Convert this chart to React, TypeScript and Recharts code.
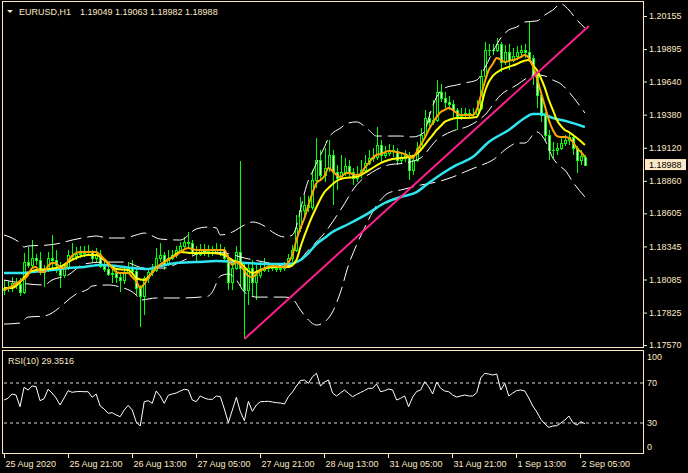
import React from 'react';
import { ComposedChart, Bar, Line, XAxis, YAxis, ReferenceLine } from 'recharts';

const W = 688;
const FG = '#FCE8C4';
const FONT = "Tahoma, 'Liberation Sans', Arial, sans-serif";
const SLOTS = 160;

const symbolName = 'EURUSD,H1';
const lastBar = { open: 1.19049, high: 1.19063, low: 1.18982, close: 1.18988 };
const rsiName = 'RSI(10)';
const rsiLast = 29.3516;

const priceTicks = [1.1757, 1.17825, 1.18085, 1.18345, 1.18605, 1.1886, 1.1912, 1.1938, 1.1964, 1.19895, 1.20155];
const priceDomain = [1.17547, 1.20265];
const rsiTicks = [0, 30, 70, 100];
const rsiLevels = [70, 30];
const timeTickIdx = [0, 16, 32, 48, 64, 80, 96, 112, 128, 144];
const timeTickLabels = ['25 Aug 2020', '25 Aug 21:00', '26 Aug 13:00', '27 Aug 05:00', '27 Aug 21:00', '28 Aug 13:00', '31 Aug 05:00', '31 Aug 21:00', '1 Sep 13:00', '2 Sep 05:00'];

const opens = [
  1.18002, 1.18018, 1.18026, 1.18057, 1.1805, 1.17987, 1.18222, 1.18199, 1.18254, 1.18238,
  1.18144, 1.1816, 1.18254, 1.18238, 1.18199, 1.1812, 1.18175, 1.18277, 1.1827, 1.18285,
  1.18293, 1.18301, 1.18301, 1.18254, 1.18285, 1.18191, 1.18167, 1.18128, 1.18136, 1.18105,
  1.18081, 1.18144, 1.18183, 1.18152, 1.18018, 1.17955, 1.18097, 1.18144, 1.1816, 1.18254,
  1.18277, 1.18207, 1.18254, 1.18277, 1.18317, 1.18348, 1.1838, 1.18372, 1.18301, 1.18285,
  1.18325, 1.18309, 1.18301, 1.18301, 1.18325, 1.18317, 1.18254, 1.18065, 1.18175, 1.18301,
  1.18175, 1.18002, 1.18175, 1.18065, 1.1812, 1.1816, 1.18175, 1.18175, 1.18175, 1.18167,
  1.18175, 1.18191, 1.18254, 1.18317, 1.1849, 1.18631, 1.1867, 1.18655, 1.18867, 1.19024,
  1.18906, 1.18961, 1.19063, 1.1893, 1.18882, 1.1893, 1.18977, 1.1893, 1.18882, 1.18914,
  1.18945, 1.19, 1.1904, 1.19047, 1.19142, 1.19063, 1.19079, 1.19102, 1.19095, 1.19024,
  1.1904, 1.19063, 1.18945, 1.19024, 1.19118, 1.1922, 1.19354, 1.19323, 1.19338, 1.19558,
  1.19511, 1.1948, 1.19464, 1.19417, 1.1937, 1.19385, 1.19393, 1.19385, 1.19385, 1.19432,
  1.19684, 1.19888, 1.19888, 1.19888, 1.19935, 1.19794, 1.19872, 1.1981, 1.19841, 1.19872,
  1.19888, 1.19872, 1.19825, 1.19692, 1.19535, 1.19377, 1.1922, 1.19102, 1.19102, 1.19118,
  1.19157, 1.19181, 1.19205, 1.19118, 1.19024, 1.19049,
];
const highs = [
  1.18081, 1.18073, 1.18105, 1.18097, 1.18097, 1.18293, 1.1834, 1.18395, 1.18285, 1.18301,
  1.18199, 1.18301, 1.18435, 1.18317, 1.18222, 1.18199, 1.18317, 1.18372, 1.1834, 1.18348,
  1.18348, 1.18356, 1.18317, 1.18332, 1.18317, 1.18238, 1.18215, 1.18175, 1.1816, 1.18144,
  1.18175, 1.18222, 1.18238, 1.18175, 1.18042, 1.18112, 1.18175, 1.18207, 1.18332, 1.18372,
  1.18301, 1.18317, 1.18317, 1.18348, 1.1838, 1.18419, 1.18458, 1.18395, 1.18348, 1.18364,
  1.18364, 1.18356, 1.18348, 1.18372, 1.18364, 1.1834, 1.18277, 1.18222, 1.18348, 1.19016,
  1.18222, 1.18222, 1.18238, 1.18199, 1.18222, 1.18254, 1.18222, 1.18215, 1.18207, 1.18215,
  1.18222, 1.18285, 1.18356, 1.18592, 1.18733, 1.18749, 1.18741, 1.18945, 1.19197, 1.19102,
  1.19118, 1.19181, 1.19102, 1.18985, 1.19063, 1.1904, 1.19024, 1.18961, 1.18977, 1.19024,
  1.19063, 1.19102, 1.19118, 1.19283, 1.19181, 1.19134, 1.1915, 1.19142, 1.19118, 1.19087,
  1.19102, 1.19087, 1.19063, 1.19165, 1.19275, 1.19417, 1.19401, 1.19495, 1.19652, 1.19621,
  1.19558, 1.19527, 1.19495, 1.19432, 1.19432, 1.19432, 1.19425, 1.19432, 1.19495, 1.19731,
  1.19951, 1.19935, 1.19935, 1.19982, 1.19951, 1.19927, 1.19935, 1.19904, 1.1992, 1.19927,
  1.19935, 1.20108, 1.19849, 1.19715, 1.19558, 1.19401, 1.1926, 1.19165, 1.19157, 1.19197,
  1.1922, 1.19244, 1.19228, 1.19134, 1.19102, 1.19063,
];
const lows = [
  1.17963, 1.17987, 1.17987, 1.1801, 1.17955, 1.17971, 1.18175, 1.18183, 1.18199, 1.1812,
  1.18026, 1.18144, 1.18175, 1.18136, 1.18018, 1.18097, 1.1816, 1.18238, 1.18238, 1.18254,
  1.18262, 1.1827, 1.18222, 1.18222, 1.18175, 1.18144, 1.18112, 1.18057, 1.18057, 1.17987,
  1.1805, 1.18144, 1.1812, 1.17963, 1.17712, 1.17806, 1.18057, 1.18112, 1.18144, 1.18222,
  1.1816, 1.18191, 1.18238, 1.18254, 1.18301, 1.18332, 1.1834, 1.18277, 1.18222, 1.1827,
  1.1827, 1.18262, 1.1827, 1.18285, 1.1827, 1.18222, 1.18002, 1.18002, 1.1816, 1.18026,
  1.17617, 1.17885, 1.17947, 1.17924, 1.18097, 1.18144, 1.18144, 1.18152, 1.18144, 1.18144,
  1.18152, 1.18175, 1.18222, 1.18301, 1.18458, 1.18568, 1.18615, 1.18631, 1.18804, 1.18867,
  1.18851, 1.1893, 1.1867, 1.18788, 1.18867, 1.18898, 1.18882, 1.18827, 1.18851, 1.18882,
  1.1893, 1.18985, 1.19008, 1.19024, 1.19008, 1.1904, 1.19055, 1.19047, 1.18985, 1.19,
  1.19008, 1.18867, 1.18906, 1.19008, 1.19102, 1.19197, 1.19275, 1.19299, 1.19323, 1.1948,
  1.19432, 1.19417, 1.19362, 1.1926, 1.19338, 1.19354, 1.19354, 1.19354, 1.1937, 1.19417,
  1.19668, 1.19841, 1.19849, 1.19872, 1.19715, 1.1977, 1.19731, 1.19794, 1.1981, 1.19825,
  1.19825, 1.19794, 1.19613, 1.19432, 1.19323, 1.19165, 1.19024, 1.1904, 1.19063, 1.19102,
  1.19134, 1.19142, 1.19063, 1.18922, 1.18985, 1.18982,
];
const closes = [
  1.18018, 1.18026, 1.18057, 1.1805, 1.17987, 1.18222, 1.18199, 1.18254, 1.18238, 1.18144,
  1.1816, 1.18254, 1.18238, 1.18199, 1.1812, 1.18175, 1.18277, 1.1827, 1.18285, 1.18293,
  1.18301, 1.18301, 1.18254, 1.18285, 1.18191, 1.18167, 1.18128, 1.18136, 1.18105, 1.18081,
  1.18144, 1.18183, 1.18152, 1.18018, 1.17955, 1.18097, 1.18144, 1.1816, 1.18254, 1.18277,
  1.18207, 1.18254, 1.18277, 1.18317, 1.18348, 1.1838, 1.18372, 1.18301, 1.18285, 1.18325,
  1.18309, 1.18301, 1.18301, 1.18325, 1.18317, 1.18254, 1.18065, 1.18175, 1.18301, 1.18175,
  1.18002, 1.18175, 1.18065, 1.1812, 1.1816, 1.18175, 1.18175, 1.18175, 1.18167, 1.18175,
  1.18191, 1.18254, 1.18317, 1.1849, 1.18631, 1.1867, 1.18655, 1.18867, 1.19024, 1.18906,
  1.18961, 1.19063, 1.1893, 1.18882, 1.1893, 1.18977, 1.1893, 1.18882, 1.18914, 1.18945,
  1.19, 1.1904, 1.19047, 1.19142, 1.19063, 1.19079, 1.19102, 1.19095, 1.19024, 1.1904,
  1.19063, 1.18945, 1.19024, 1.19118, 1.1922, 1.19354, 1.19323, 1.19338, 1.19558, 1.19511,
  1.1948, 1.19464, 1.19417, 1.1937, 1.19385, 1.19393, 1.19385, 1.19385, 1.19432, 1.19684,
  1.19888, 1.19888, 1.19888, 1.19935, 1.19794, 1.19872, 1.1981, 1.19841, 1.19872, 1.19888,
  1.19872, 1.19825, 1.19692, 1.19535, 1.19377, 1.1922, 1.19102, 1.19102, 1.19118, 1.19157,
  1.19181, 1.19205, 1.19118, 1.19024, 1.19055, 1.18988,
];

type Pt = [number, number];
const maFast: Pt[] = [
  [0, 1.18002], [2, 1.18034], [4, 1.18073], [5, 1.18089], [6, 1.1812], [7, 1.18175], [8, 1.18183], [9, 1.18144],
  [10, 1.18144], [11, 1.18191], [12, 1.18215], [13, 1.18215], [14, 1.18175], [15, 1.18175], [16, 1.1823], [17, 1.1827],
  [18, 1.18293], [19, 1.18301], [20, 1.18301], [23, 1.18301], [24, 1.18277], [25, 1.18246], [26, 1.18215], [27, 1.18175],
  [28, 1.18144], [29, 1.18136], [31, 1.18136], [32, 1.18105], [33, 1.18073], [34, 1.18018], [35, 1.1805], [36, 1.18097],
  [38, 1.18175], [40, 1.18222], [43, 1.18277], [46, 1.18332], [47, 1.18325], [48, 1.18317], [50, 1.18317], [55, 1.18317],
  [56, 1.18254], [57, 1.18199], [58, 1.18222], [59, 1.18199], [60, 1.18152], [61, 1.18112], [62, 1.18105], [63, 1.18128],
  [65, 1.18175], [67, 1.18191], [70, 1.18183], [71, 1.18222], [72, 1.18277], [73, 1.18395], [74, 1.1849], [75, 1.18568],
  [76, 1.1867], [77, 1.18765], [78, 1.18843], [79, 1.18867], [80, 1.18898], [81, 1.18961], [82, 1.18937], [83, 1.18906],
  [84, 1.1889], [85, 1.18914], [86, 1.18922], [87, 1.18914], [88, 1.18906], [89, 1.18914], [90, 1.18961], [91, 1.19],
  [92, 1.1904], [93, 1.19063], [94, 1.19071], [96, 1.19095], [98, 1.19087], [100, 1.19071], [101, 1.19055], [102, 1.1904],
  [103, 1.19087], [104, 1.19142], [105, 1.19197], [106, 1.1926], [107, 1.19315], [108, 1.19362], [109, 1.19401], [110, 1.19417],
  [111, 1.19432], [112, 1.19417], [113, 1.19393], [114, 1.19377], [116, 1.19377], [117, 1.19377], [118, 1.19417], [119, 1.19527],
  [120, 1.19637], [121, 1.19731], [122, 1.19778], [123, 1.19825], [124, 1.1981], [125, 1.19794], [126, 1.19802], [127, 1.1981],
  [128, 1.19817], [129, 1.19833], [130, 1.19849], [131, 1.19825], [132, 1.19762], [133, 1.19668], [134, 1.19558], [135, 1.19448],
  [136, 1.19338], [137, 1.1926], [138, 1.19212], [139, 1.19205], [140, 1.19205], [141, 1.19197], [142, 1.19165], [143, 1.19118],
  [144, 1.19087], [145, 1.19047],
];
const maMid: Pt[] = [
  [0, 1.18018], [2, 1.18018], [4, 1.18065], [6, 1.18136], [8, 1.1816], [11, 1.18167], [14, 1.18183], [16, 1.18222],
  [18, 1.18254], [21, 1.18277], [23, 1.18277], [25, 1.18238], [27, 1.18183], [28, 1.18167], [31, 1.1816], [32, 1.18136],
  [33, 1.18097], [35, 1.18081], [36, 1.18105], [38, 1.18175], [42, 1.18262], [44, 1.18301], [47, 1.18293], [52, 1.18293],
  [55, 1.18277], [57, 1.18238], [59, 1.18215], [61, 1.18152], [62, 1.18136], [64, 1.1816], [67, 1.18183], [71, 1.18183],
  [73, 1.18238], [74, 1.1834], [76, 1.18513], [78, 1.18655], [80, 1.18772], [81, 1.18804], [83, 1.18859], [85, 1.18882],
  [88, 1.1889], [90, 1.18922], [92, 1.18961], [94, 1.19], [96, 1.19024], [99, 1.1904], [101, 1.19047], [103, 1.19071],
  [104, 1.19102], [106, 1.19181], [107, 1.1922], [108, 1.1926], [109, 1.19291], [110, 1.19323], [111, 1.19338], [113, 1.19354],
  [115, 1.19354], [118, 1.19362], [119, 1.19432], [120, 1.19558], [121, 1.19637], [122, 1.19684], [124, 1.19731], [126, 1.19755],
  [128, 1.19778], [129, 1.19794], [131, 1.1981], [132, 1.1977], [133, 1.19731], [134, 1.19668], [135, 1.1959], [136, 1.19495],
  [137, 1.19417], [138, 1.19338], [139, 1.19291], [140, 1.1926], [141, 1.19244], [142, 1.1922], [143, 1.19197], [145, 1.19142],
];
const maSlow: Pt[] = [
  [0, 1.18136], [4, 1.18136], [7, 1.18144], [12, 1.1816], [16, 1.18175], [20, 1.18183], [24, 1.18199], [28, 1.18191],
  [32, 1.18175], [36, 1.18167], [38, 1.18183], [43, 1.18215], [48, 1.18222], [53, 1.1823], [60, 1.18215], [67, 1.18207],
  [71, 1.18207], [74, 1.18238], [76, 1.18293], [78, 1.18364], [80, 1.18411], [82, 1.18458], [86, 1.18521], [91, 1.18607],
  [95, 1.18686], [99, 1.18733], [103, 1.18772], [106, 1.18843], [110, 1.1893], [113, 1.18985], [117, 1.19047], [121, 1.19165],
  [126, 1.1926], [130, 1.19354], [132, 1.19385], [134, 1.19385], [137, 1.19354], [141, 1.19323], [145, 1.19283],
];
const bandUpper: Pt[] = [
  [0, 1.18435], [2, 1.18411], [4, 1.18372], [5, 1.1834], [6, 1.18348], [11, 1.18356], [13, 1.18364], [17, 1.18395],
  [21, 1.18419], [23, 1.18427], [26, 1.18411], [30, 1.18411], [33, 1.18435], [35, 1.1845], [39, 1.18403], [44, 1.18395],
  [48, 1.18482], [51, 1.18497], [53, 1.1849], [54, 1.18435], [57, 1.18458], [60, 1.18513], [62, 1.18537], [65, 1.18505],
  [67, 1.18458], [70, 1.18419], [72, 1.18435], [73, 1.18505], [74, 1.18631], [75, 1.18765], [76, 1.18867], [77, 1.1893],
  [78, 1.19], [80, 1.19126], [81, 1.19197], [84, 1.19275], [86, 1.19315], [88, 1.19323], [91, 1.1926], [93, 1.19212],
  [96, 1.19212], [99, 1.19212], [102, 1.19205], [105, 1.19244], [106, 1.19354], [108, 1.19519], [110, 1.1959], [113, 1.19613],
  [115, 1.19629], [118, 1.19652], [120, 1.19747], [122, 1.19872], [124, 1.19982], [126, 1.20045], [128, 1.20069], [130, 1.20108],
  [133, 1.20116], [135, 1.20163], [137, 1.20202], [139, 1.2025], [141, 1.20202], [143, 1.20124], [145, 1.20061],
];
const bandMiddle: Pt[] = [
  [0, 1.18081], [6, 1.1805], [10, 1.18042], [12, 1.18081], [16, 1.1812], [20, 1.18207], [25, 1.18222], [30, 1.18222],
  [35, 1.18175], [40, 1.18175], [45, 1.18238], [50, 1.18301], [55, 1.18293], [60, 1.18254], [65, 1.18222], [70, 1.18191],
  [73, 1.18215], [76, 1.18317], [80, 1.1845], [84, 1.18631], [88, 1.18827], [92, 1.1893], [96, 1.18985], [100, 1.19],
  [104, 1.1904], [108, 1.19181], [112, 1.19252], [116, 1.19291], [120, 1.19377], [124, 1.19535], [128, 1.19613], [131, 1.19676],
  [133, 1.19692], [135, 1.19684], [137, 1.19652], [139, 1.19621], [141, 1.19558], [143, 1.1948], [145, 1.19393],
];
const bandLower: Pt[] = [
  [0, 1.17735], [4, 1.17743], [6, 1.1779], [10, 1.17798], [12, 1.17822], [14, 1.17869], [16, 1.17924], [18, 1.17971],
  [21, 1.1801], [22, 1.18034], [26, 1.18042], [29, 1.18026], [33, 1.17963], [34, 1.17924], [38, 1.1794], [44, 1.1794],
  [49, 1.17947], [51, 1.17955], [52, 1.17987], [54, 1.18112], [56, 1.18128], [58, 1.18081], [60, 1.17987], [63, 1.17947],
  [70, 1.17947], [72, 1.17932], [74, 1.17845], [76, 1.17767], [78, 1.17727], [80, 1.17751], [82, 1.1783], [84, 1.17987],
  [86, 1.18199], [88, 1.18356], [90, 1.1849], [92, 1.18615], [94, 1.1871], [96, 1.18765], [99, 1.18788], [101, 1.18804],
  [104, 1.18827], [108, 1.18851], [112, 1.1889], [115, 1.1893], [118, 1.18969], [122, 1.19024], [126, 1.19126], [128, 1.19157],
  [130, 1.19157], [133, 1.19244], [135, 1.19181], [137, 1.1904], [139, 1.18969], [140, 1.18945], [142, 1.18851], [145, 1.18733],
];
const trendLine: Pt[] = [[60, 1.17617], [146, 1.20077]];

const rsiValues = [
  53, 54.7, 59, 58, 46.3, 65.7, 63, 67, 66.3, 52.3,
  54.3, 63.7, 60, 55, 48, 55, 62.3, 60.7, 61.3, 61.5,
  61.3, 61.3, 55.7, 59, 47, 44, 39.7, 40.3, 38, 36.3,
  43, 47.7, 43, 31, 27, 51.3, 52.3, 49.7, 62, 57,
  49.7, 57.7, 59, 60, 62, 63.7, 63, 53, 51.3, 57,
  55, 53.7, 53.7, 57, 56.3, 44, 30.3, 43, 55.7, 41.3,
  32.3, 51.7, 41.7, 48, 51.3, 51.5, 51.7, 51, 50.3, 50,
  49, 56.3, 61, 67, 72.5, 73, 69.7, 76.3, 79.7, 67,
  71, 73, 60, 57, 60, 63, 59.5, 56.3, 58.5, 60.5,
  62.5, 64.7, 64.7, 69, 61.3, 62.3, 64, 63, 53, 54.7,
  57, 46.3, 56, 61.5, 63, 71.3, 66.3, 59, 71, 64.7,
  62, 61.3, 58, 56, 57, 58, 57, 57, 60.3, 75,
  79.7, 79, 78, 79, 63, 69.7, 57, 60, 62.5, 63,
  62, 55, 47, 41, 33.7, 29, 25.7, 27, 27.3, 30,
  33, 37, 30.3, 28, 31.3, 29.3516,
];

// ---- build tables ----
const rows: any[] = Array.from({ length: SLOTS }, (_, i) => ({ i }));
closes.forEach((c, i) => {
  rows[i].o = opens[i];
  rows[i].h = highs[i];
  rows[i].l = lows[i];
  rows[i].c = c;
  rows[i].hl = [lows[i], highs[i]];
});
const put = (key: string, pts: Pt[]) => pts.forEach(([i, v]) => { rows[i][key] = v; });
put('fast', maFast);
put('mid', maMid);
put('slow', maSlow);
put('bbU', bandUpper);
put('bbM', bandMiddle);
put('bbL', bandLower);
put('trend', trendLine);

const rsiRows = rsiValues.map((v, i) => ({ i, rsi: v }));

// ---- shapes ----
function Candle(props: any) {
  const { x, y, width, height, payload } = props;
  if (!payload || payload.h == null || y == null || height == null) return <g />;
  const { o, h, l, c } = payload;
  const span = h - l;
  const py = (v: number) => (span > 0 ? y + ((h - v) / span) * height : y);
  const cx = Math.floor(x + width / 2);
  const top = Math.round(y);
  const bot = Math.round(y + height);
  const bTop = Math.round(py(Math.max(o, c)));
  const bBot = Math.round(py(Math.min(o, c)));
  const bull = c >= o;
  return (
    <g shapeRendering="crispEdges">
      <rect x={cx} y={top} width={1} height={Math.max(1, bot - top)} fill="#00ff00" />
      {bBot - bTop >= 2 ? (
        <>
          <rect x={cx - 1} y={bTop} width={3} height={bBot - bTop + 1} fill="#00ff00" />
          <rect x={cx} y={bTop + 1} width={1} height={bBot - bTop - 1} fill={bull ? '#000000' : '#ffffff'} />
        </>
      ) : (
        <rect x={cx - 1} y={bTop} width={3} height={Math.max(1, bBot - bTop + 1)} fill="#00ff00" />
      )}
    </g>
  );
}

function PriceTick(props: any) {
  const { x, y, payload } = props;
  const v = payload.value;
  if (v === lastBar.close) {
    return (
      <g>
        <rect x={x + 2} y={y - 5.5} width={41} height={11} fill={FG} />
        <text x={x + 6} y={y} dy="0.35em" fill="#000" fontSize={9} fontFamily={FONT}>{v.toFixed(5)}</text>
      </g>
    );
  }
  return (
    <g>
      <line x1={x + 1} x2={x + 4} y1={y + 0.5} y2={y + 0.5} stroke={FG} />
      <text x={x + 6} y={y} dy="0.35em" fill={FG} fontSize={9} fontFamily={FONT}>{v.toFixed(5)}</text>
    </g>
  );
}

function RsiTick(props: any) {
  const { x, y, payload } = props;
  const v = payload.value;
  const shift = v === 100 ? 4 : v === 0 ? -6 : 0;
  return (
    <text x={x + 4} y={y + shift} dy="0.35em" fill={FG} fontSize={9} fontFamily={FONT}>{v}</text>
  );
}

function TimeTick(props: any) {
  const { x, y, payload } = props;
  const k = timeTickIdx.indexOf(payload.value);
  const px = Math.floor(x) + 0.5;
  return (
    <g>
      <line x1={px} x2={px} y1={y + 1} y2={y + 5} stroke={FG} />
      <text x={px + 1} y={y + 14} fill={FG} fontSize={9} fontFamily={FONT} textAnchor="start">{timeTickLabels[k]}</text>
    </g>
  );
}

export default function App() {
  return (
    <div style={{ position: 'absolute', left: 0, top: 0, width: W, height: 473, background: '#000', overflow: 'hidden' }}>
      <div style={{ position: 'absolute', left: 0, top: 0 }}>
        <ComposedChart width={W} height={350} data={rows} margin={{ top: 2, right: 0, bottom: 2, left: 2 }}>
          <XAxis dataKey="i" type="category" hide />
          <YAxis
            orientation="right"
            width={45}
            type="number"
            domain={priceDomain}
            allowDataOverflow
            ticks={[...priceTicks, lastBar.close]}
            interval={0}
            tick={(p: any) => <PriceTick {...p} />}
            tickLine={false}
            axisLine={false}
            tickSize={0}
            tickMargin={0}
          />
          <Bar dataKey="hl" barSize={3} shape={(p: any) => <Candle {...p} />} isAnimationActive={false} />
          <Line dataKey="bbU" type="monotone" stroke="#ffffff" strokeWidth={1} strokeDasharray="16 6" dot={false} connectNulls isAnimationActive={false} />
          <Line dataKey="bbM" type="monotone" stroke="#ffffff" strokeWidth={1} strokeDasharray="16 6" dot={false} connectNulls isAnimationActive={false} />
          <Line dataKey="bbL" type="monotone" stroke="#ffffff" strokeWidth={1} strokeDasharray="16 6" dot={false} connectNulls isAnimationActive={false} />
          <Line dataKey="slow" type="monotone" stroke="#2EE6F0" strokeWidth={2.5} dot={false} connectNulls isAnimationActive={false} />
          <Line dataKey="mid" type="monotone" stroke="#FFFF00" strokeWidth={2} dot={false} connectNulls isAnimationActive={false} />
          <Line dataKey="fast" type="monotone" stroke="#FFA500" strokeWidth={2} dot={false} connectNulls isAnimationActive={false} />
          <Line dataKey="trend" type="linear" stroke="#FF1E8C" strokeWidth={2} dot={false} connectNulls isAnimationActive={false} />
        </ComposedChart>
      </div>
      <div style={{ position: 'absolute', left: 0, top: 350 }}>
        <ComposedChart width={W} height={123} data={rsiRows} margin={{ top: 3, right: 0, bottom: 0, left: 2 }}>
          <XAxis
            dataKey="i"
            type="number"
            domain={[-0.5, SLOTS - 0.5]}
            allowDataOverflow
            ticks={timeTickIdx}
            interval={0}
            height={20}
            tick={(p: any) => <TimeTick {...p} />}
            tickLine={false}
            axisLine={false}
            tickSize={0}
            tickMargin={0}
          />
          <YAxis
            orientation="right"
            width={45}
            type="number"
            domain={[0, 100]}
            ticks={rsiTicks}
            interval={0}
            tick={(p: any) => <RsiTick {...p} />}
            tickLine={false}
            axisLine={false}
            tickSize={0}
            tickMargin={0}
          />
          {rsiLevels.map((lv) => (
            <ReferenceLine key={lv} y={lv} stroke="#d8d8d8" strokeDasharray="3 3" />
          ))}
          <Line dataKey="rsi" type="linear" stroke="#ffffff" strokeWidth={1} dot={false} isAnimationActive={false} />
        </ComposedChart>
      </div>
      <svg width={W} height={473} style={{ position: 'absolute', left: 0, top: 0, pointerEvents: 'none' }}>
        <rect x={2.5} y={1.5} width={641} height={346} fill="none" stroke={FG} />
        <rect x={2.5} y={350.5} width={641} height={103} fill="none" stroke={FG} />
        <polygon points="7,10 13,10 10,13" fill={FG} />
        <text x={19} y={15} fill={FG} fontSize={9} fontFamily={FONT}>{symbolName}</text>
        <text x={80} y={15} fill={FG} fontSize={9} fontFamily={FONT}>
          {`${lastBar.open.toFixed(5)} ${lastBar.high.toFixed(5)} ${lastBar.low.toFixed(5)} ${lastBar.close.toFixed(5)}`}
        </text>
        <text x={8} y={364} fill={FG} fontSize={9} fontFamily={FONT}>{`${rsiName} ${rsiLast.toFixed(4)}`}</text>
      </svg>
    </div>
  );
}
